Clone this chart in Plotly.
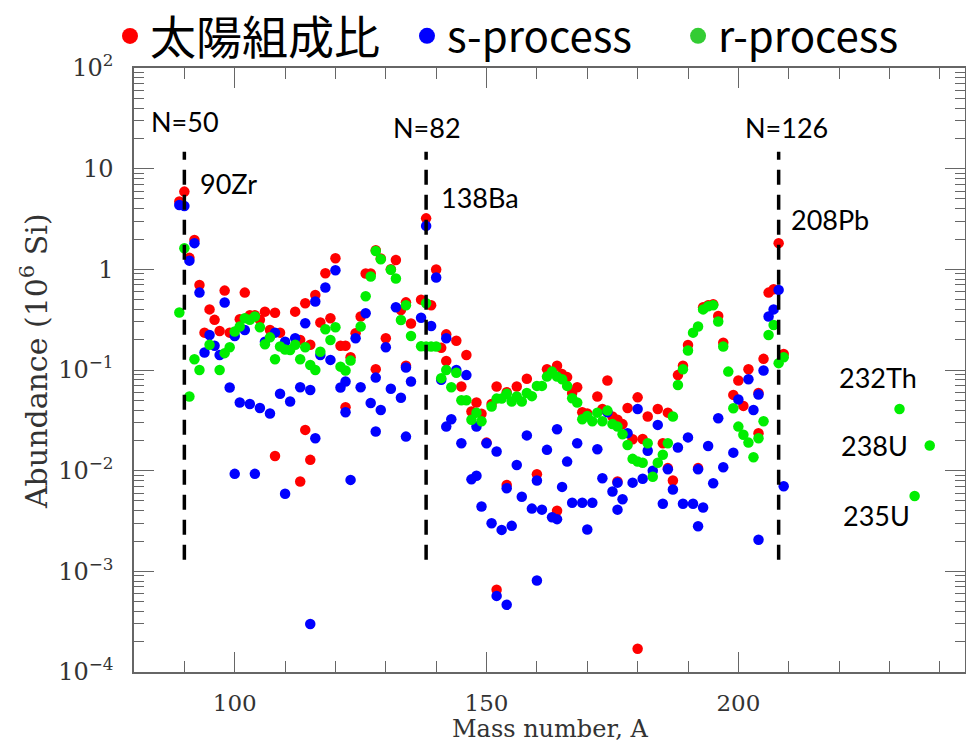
import math
import plotly.graph_objects as go

# Solar-system abundances (units of 10^6 Si atoms) against mass number
solar_A = [89, 90, 91, 92, 93, 94, 95, 96, 97, 98, 99, 101, 102, 103, 104, 105, 106, 107, 108, 108,
           109, 112, 113, 113, 114, 114, 115, 115, 116, 117, 118, 119, 120, 121, 122, 122, 123, 124,
           125, 126, 127, 128, 128, 129, 130, 131, 132, 133, 134, 134, 135, 137, 138, 139, 140, 141,
           142, 142, 144, 145, 146, 147, 148, 149, 150, 151, 152, 152, 154, 154, 156, 158, 160, 162,
           164, 164, 165, 166, 167, 168, 169, 170, 172, 173, 174, 175, 176, 176, 177, 178, 179, 180,
           180, 181, 182, 184, 185, 186, 186, 187, 188, 189, 190, 192, 193, 194, 195, 196, 197, 199,
           200, 201, 202, 204, 204, 205, 206, 207, 208, 209]
solar_val = [4.71, 5.92, 1.3, 1.96, 0.70, 0.235, 0.40, 0.315, 0.244, 0.615, 0.235, 0.319, 0.587, 0.35,
             0.35, 0.316, 0.38, 0.25, 0.37, 0.014, 0.235, 0.38, 0.199, 0.0078, 0.46, 0.0254, 0.178,
             0.0128, 0.557, 0.296, 0.914, 0.327, 1.29, 0.174, 0.174, 0.0426, 0.134, 0.232, 0.34, 0.91,
             0.91, 1.55, 0.102, 1.28, 0.207, 1.0, 1.24, 0.395, 0.47, 0.11, 0.29, 0.5, 3.21, 0.44, 0.996,
             0.166, 0.226, 0.123, 0.195, 0.0686, 0.141, 0.0387, 0.0475, 0.0367, 0.019, 0.046, 0.0686,
             6.55e-4, 0.06, 0.0072, 0.0686, 0.082, 0.0092, 0.102, 0.11, 0.004, 0.091, 0.085, 0.059,
             0.0675, 0.038, 0.037, 0.0545, 0.041, 0.0785, 0.0345, 0.032, 0.0078, 0.029, 0.042, 0.0205,
             0.0535, 1.7e-4, 0.0206, 0.0345, 0.041, 0.0187, 0.0377, 0.0106, 0.008, 0.089, 0.11, 0.177,
             0.0106, 0.42, 0.44, 0.45, 0.344, 0.187, 0.0566, 0.0785, 0.044, 0.1016, 0.059, 0.0235,
             0.129, 0.587, 0.634, 1.82, 0.144]

# s-process contribution
s_A = [89, 90, 91, 92, 93, 94, 95, 96, 97, 98, 99, 100, 100, 101, 102, 103, 104, 105, 106, 107,
       108, 109, 110, 110, 111, 112, 113, 114, 115, 115, 116, 116, 117, 118, 119, 120, 121, 122,
       122, 123, 124, 125, 126, 127, 128, 128, 129, 130, 131, 132, 133, 134, 134, 135, 137, 138,
       139, 140, 141, 142, 142, 143, 144, 145, 146, 147, 148, 148, 149, 150, 151, 152, 152, 153,
       154, 154, 155, 156, 157, 158, 159, 160, 160, 161, 162, 163, 164, 164, 165, 166, 167, 168,
       169, 170, 171, 172, 173, 174, 175, 176, 176, 177, 178, 179, 180, 181, 182, 183, 184, 185,
       186, 187, 188, 189, 190, 191, 192, 192, 193, 194, 195, 196, 197, 199, 200, 202, 203, 204,
       204, 205, 206, 207, 208, 209]
s_val = [4.36, 4.26, 1.22, 1.82, 0.587, 0.149, 0.223, 0.174, 0.141, 0.468, 0.067, 0.218, 0.0093,
         0.0475, 0.25, 0.046, 0.0093, 0.042, 0.191, 0.037, 0.235, 0.058, 0.191, 0.0059, 0.0486,
         0.207, 0.0675, 0.291, 0.0634, 3.0e-4, 0.479, 0.021, 0.141, 0.66, 0.126, 0.98, 0.067, 0.077,
         0.038, 0.0081, 0.207, 0.0675, 0.366, 0.047, 0.084, 0.0245, 0.040, 0.168, 0.065, 0.42, 0.053,
         0.106, 0.0218, 0.077, 0.33, 2.70, 0.274, 0.83, 0.08, 0.207, 0.0274, 0.0324, 0.1, 0.0187,
         0.089, 0.0082, 0.0274, 0.0089, 0.0044, 0.0187, 0.003, 0.0155, 5.7e-4, 0.00258, 0.0067,
         4.65e-4, 0.00283, 0.0114, 0.0055, 0.0224, 0.0042, 0.008, 8.1e-4, 0.0041, 0.0161, 0.00345,
         0.0258, 0.0033, 0.0069, 0.0123, 0.0048, 0.0187, 0.0048, 0.0026, 0.0048, 0.0163, 0.0084,
         0.038, 0.0062, 0.0076, 0.0041, 0.0052, 0.0236, 0.0076, 0.041, 0.0083, 0.0158, 0.010,
         0.0285, 0.0047, 0.0103, 0.0065, 0.017, 0.0047, 0.0214, 0.0047, 0.0103, 0.0028, 0.0043,
         0.0176, 0.0075, 0.0332, 0.0108, 0.0151, 0.051, 0.081, 0.040, 0.057, 0.00206, 0.099, 0.34,
         0.40, 0.625, 0.007]

# r-process contribution (including the actinides)
r_A = [89, 90, 91, 92, 93, 95, 97, 98, 99, 100, 101, 102, 103, 104, 105, 106, 107, 108, 109, 110,
       111, 112, 113, 114, 115, 116, 117, 118, 119, 120, 121, 122, 123, 125, 126, 127, 128, 129,
       131, 132, 133, 134, 135, 137, 138, 138, 139, 140, 141, 142, 143, 144, 145, 146, 147, 148,
       149, 151, 152, 153, 154, 155, 156, 157, 158, 159, 160, 161, 162, 163, 164, 165, 166, 167,
       168, 169, 170, 171, 172, 173, 174, 175, 176, 177, 178, 179, 180, 181, 182, 183, 184, 185,
       186, 187, 188, 189, 190, 191, 192, 193, 194, 195, 196, 197, 198, 199, 200, 201, 202, 203,
       204, 205, 206, 207, 208, 209, 232, 235, 238]
r_val = [0.372, 1.62, 0.0545, 0.128, 0.10, 0.178, 0.10, 0.147, 0.168, 0.241, 0.27, 0.327, 0.315,
         0.34, 0.266, 0.18, 0.211, 0.128, 0.171, 0.16, 0.158, 0.178, 0.128, 0.168, 0.112, 0.10,
         0.152, 0.254, 0.199, 0.266, 0.108, 0.099, 0.124, 0.27, 0.54, 0.85, 1.52, 1.26, 0.99, 0.81,
         0.314, 0.44, 0.218, 0.172, 0.46, 0.171, 0.171, 0.171, 0.083, 0.10, 0.0675, 0.094, 0.05,
         0.05, 0.032, 0.0377, 0.031, 0.0434, 0.052, 0.052, 0.058, 0.0486, 0.0545, 0.0486, 0.059,
         0.055, 0.0695, 0.0695, 0.086, 0.0964, 0.086, 0.081, 0.0695, 0.0524, 0.0475, 0.0324, 0.035,
         0.031, 0.0377, 0.031, 0.0395, 0.029, 0.0274, 0.023, 0.018, 0.0131, 0.0123, 0.012, 0.0187,
         0.0087, 0.012, 0.0144, 0.0187, 0.0345, 0.071, 0.1016, 0.156, 0.235, 0.27, 0.40, 0.43, 0.44,
         0.303, 0.171, 0.0964, 0.0417, 0.0274, 0.0227, 0.019, 0.0136, 0.021, 0.031, 0.223, 0.28,
         0.117, 0.134, 0.041, 0.0056, 0.0178]

# Closed neutron shells
magic_A = [90, 138, 208]
magic_labels = ["N=50", "N=82", "N=126"]
magic_label_A = [90.2, 138.2, 209.6]
magic_label_val = [29.1, 25.4, 25.4]
magic_span = [1.3e-3, 14.7]

# Isotope labels
iso_labels = ["90Zr", "138Ba", "208Pb", "232Th", "238U", "235U"]
iso_label_A = [92.7, 140.6, 210.0, 219.5, 219.9, 220.3]
iso_label_val = [7.2, 5.2, 3.1, 0.0836, 0.0176, 0.00356]

# Axis ticks
y_tick_vals = [1e-4, 1e-3, 1e-2, 1e-1, 1, 10, 100]
y_tick_text = ["10<sup>\u22124</sup>", "10<sup>\u22123</sup>", "10<sup>\u22122</sup>",
               "10<sup>\u22121</sup>", "1", "10", "10<sup>2</sup>"]
y_minor_vals = [m * 10.0 ** e for e in range(-4, 2) for m in range(2, 10)]

RED, BLUE, GREEN = "#ff0000", "#0000ff", "#00ee00"
LABEL_FONT = dict(family="Lato", size=27, color="black")
AXIS_FONT = "DejaVu Serif"

fig = go.Figure()

for xs, ys, col in [(solar_A, solar_val, RED), (s_A, s_val, BLUE), (r_A, r_val, GREEN)]:
    fig.add_trace(go.Scatter(x=xs, y=ys, mode="markers", showlegend=False,
                             marker=dict(color=col, size=10.5, line=dict(width=0))))

for a in magic_A:
    fig.add_trace(go.Scatter(x=[a, a], y=magic_span, mode="lines", showlegend=False,
                             hoverinfo="skip",
                             line=dict(color="black", width=3.5, dash="15px,10px")))

# Legend entries, one legend each so they can be spaced freely
legend_items = [("太陽組成比", RED, "legend"), ("s-process", BLUE, "legend2"),
                ("r-process", "#33cc33", "legend3")]
for name, col, lg in legend_items:
    fig.add_trace(go.Scatter(x=[None], y=[None], mode="markers", name=name, legend=lg,
                             marker=dict(color=col, size=16)))


def legend_style(x, size):
    return dict(font=dict(family="Noto Sans CJK JP", size=size, color="black"),
                bgcolor="rgba(0,0,0,0)", borderwidth=0, xanchor="left", yanchor="middle",
                x=x, y=1.053, itemsizing="trace")


annotations = []
for txt, a, v in zip(magic_labels, magic_label_A, magic_label_val):
    annotations.append(dict(x=a, y=math.log10(v), xref="x", yref="y", text=txt, showarrow=False,
                            xanchor="center", yanchor="middle", font=LABEL_FONT))
for txt, a, v in zip(iso_labels, iso_label_A, iso_label_val):
    annotations.append(dict(x=a, y=math.log10(v), xref="x", yref="y", text=txt, showarrow=False,
                            xanchor="left", yanchor="middle", font=LABEL_FONT))
annotations.append(dict(x=-0.119, y=0.515, xref="paper", yref="paper", textangle=-90,
                        text="Abundance (10<sup>6</sup> Si)", showarrow=False,
                        xanchor="center", yanchor="middle",
                        font=dict(family=AXIS_FONT, size=30, color="#333")))
annotations.append(dict(x=0.5, y=-0.1205, xref="paper", yref="paper",
                        text="Mass number, A", showarrow=False,
                        xanchor="center", yanchor="bottom",
                        font=dict(family=AXIS_FONT, size=24, color="#333")))

axis_color = "#666666"
fig.update_layout(
    width=966, height=746,
    margin=dict(l=134, r=1, t=68, b=74, autoexpand=False),
    paper_bgcolor="white", plot_bgcolor="white",
    legend=legend_style(-0.0289, 46),
    legend2=legend_style(0.3285, 42),
    legend3=legend_style(0.6547, 42),
    annotations=annotations,
    xaxis=dict(range=[80, 245], tickmode="linear", tick0=0, dtick=50,
               showline=True, linecolor=axis_color, linewidth=1.5, mirror="allticks",
               ticks="inside", ticklen=20, tickwidth=1.2, tickcolor=axis_color,
               minor=dict(dtick=10, tick0=0, ticks="inside", ticklen=11, tickwidth=1.2,
                          tickcolor=axis_color),
               showgrid=False, zeroline=False, ticklabelstandoff=10,
               tickfont=dict(family=AXIS_FONT, size=23, color="#333")),
    yaxis=dict(type="log", range=[-4, 2], tickmode="array", tickvals=y_tick_vals,
               ticktext=y_tick_text,
               showline=True, linecolor=axis_color, linewidth=1.5, mirror="allticks",
               ticks="inside", ticklen=20, tickwidth=1.2, tickcolor=axis_color,
               minor=dict(tickmode="array", tickvals=y_minor_vals, ticks="inside", ticklen=10,
                          tickwidth=1.2, tickcolor=axis_color),
               showgrid=False, zeroline=False, ticklabelstandoff=14,
               tickfont=dict(family=AXIS_FONT, size=24, color="#333")),
)

fig.write_html("out.html")
